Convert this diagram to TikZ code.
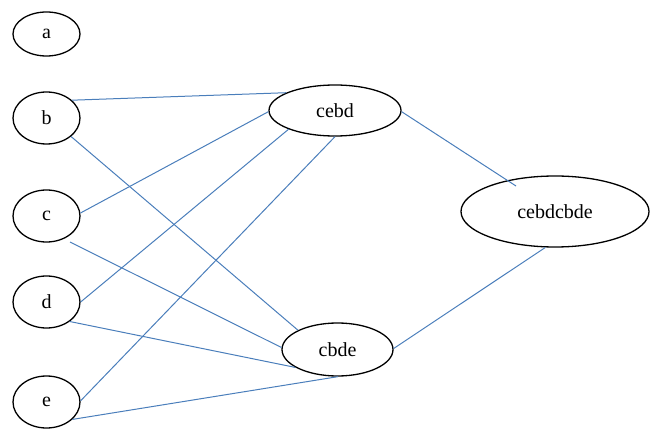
\documentclass[tikz,border=0pt]{standalone}
\usepackage{fontspec}
\setmainfont{Liberation Serif}
\usetikzlibrary{shapes.geometric}
\definecolor{linkblue}{HTML}{4A7EBB}
\tikzset{
  vert/.style={ellipse, draw=black, line width=1.3pt, inner sep=0pt,
    font=\fontsize{20}{23}\selectfont},
  small/.style={vert, minimum width=67pt, minimum height=52pt},
  link/.style={draw=linkblue, line width=1pt}
}
\begin{document}
\begin{tikzpicture}[x=1pt,y=-1pt]
\useasboundingbox (0,0) rectangle (650,430);
\node[small, minimum height=44pt] (a) at (46.5,34) {a};
\node[small] (b) at (46.5,118) {b};
\node[small] (c) at (46.5,216) {c};
\node[small] (d) at (46.5,302) {d};
\node[small] (e) at (46.5,402) {e};
\node[vert, minimum width=132pt, minimum height=51pt] (cebd) at (335,110.5) {cebd};
\node[vert, minimum width=111pt, minimum height=53pt] (cbde) at (337.5,349.5) {cbde};
\node[vert, minimum width=188pt, minimum height=71pt] (cc) at (555,211.5) {cebdcbde};

\draw[link] (b.35) -- (cebd.160.5);
\draw[link] (b.-37.5) -- (cbde.154.3);
\draw[link] (c.5) -- (cebd.181);
\draw[link] ([shift={(23.5,26)}]c.center) -- (cbde.178.5);
\draw[link] (d.0) -- (cebd.202.1);
\draw[link] (d.-40.6) -- (cbde.203.9);
\draw[link] (e.2) -- (cebd.270);
\draw[link] (e.-34.8) -- (cbde.271);
\draw[link] (cebd.-1.3) -- ([shift={(-39,-25.5)}]cc.center);
\draw[link] (cbde.1.5) -- (cc.255.8);
\end{tikzpicture}
\end{document}
